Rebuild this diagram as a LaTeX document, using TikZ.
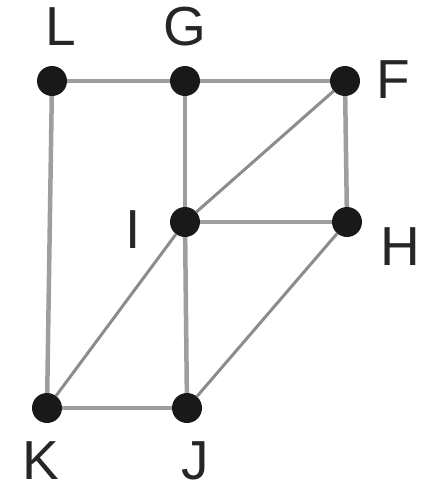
\documentclass[tikz,border=0pt]{standalone}
\usepackage{fontspec}
\setmainfont{Liberation Sans}
\begin{document}
\begin{tikzpicture}[x=1pt,y=-1pt,
  dot/.style={circle,fill=black!90,inner sep=0pt,minimum size=30pt},
  edge/.style={draw=black!38,line width=4.5pt},
  diag/.style={draw=black!45,line width=3pt},
  lbl/.style={anchor=base,inner sep=0pt,font=\fontsize{55}{60}\selectfont,text=black!85}]
\useasboundingbox (0,0) rectangle (432,491);
\node[dot] (L) at (52,81) {};
\node[dot] (G) at (185,81) {};
\node[dot] (F) at (345,81) {};
\node[dot] (I) at (185,222) {};
\node[dot] (H) at (347,222) {};
\node[dot] (K) at (47,408) {};
\node[dot] (J) at (187,408) {};
\draw[edge] (L) -- (G);
\draw[edge] (G) -- (F);
\draw[edge] (L) -- (K);
\draw[edge] (G) -- (I);
\draw[edge] (I) -- (J);
\draw[edge] (F) -- (H);
\draw[edge] (I) -- (H);
\draw[edge] (K) -- (J);
\draw[diag] (F) -- (I);
\draw[diag] (I) -- (K);
\draw[diag] (H) -- (J);
\node[lbl] (tL) at (61,45) {L};
\node[lbl] (tG) at (185,45) {G};
\node[lbl] (tF) at (393,98) {F};
\node[lbl] (tI) at (133,248) {I};
\node[lbl] (tH) at (400,265) {H};
\node[lbl] (tK) at (41,479) {K};
\node[lbl] (tJ) at (195,479) {J};
\end{tikzpicture}
\end{document}
